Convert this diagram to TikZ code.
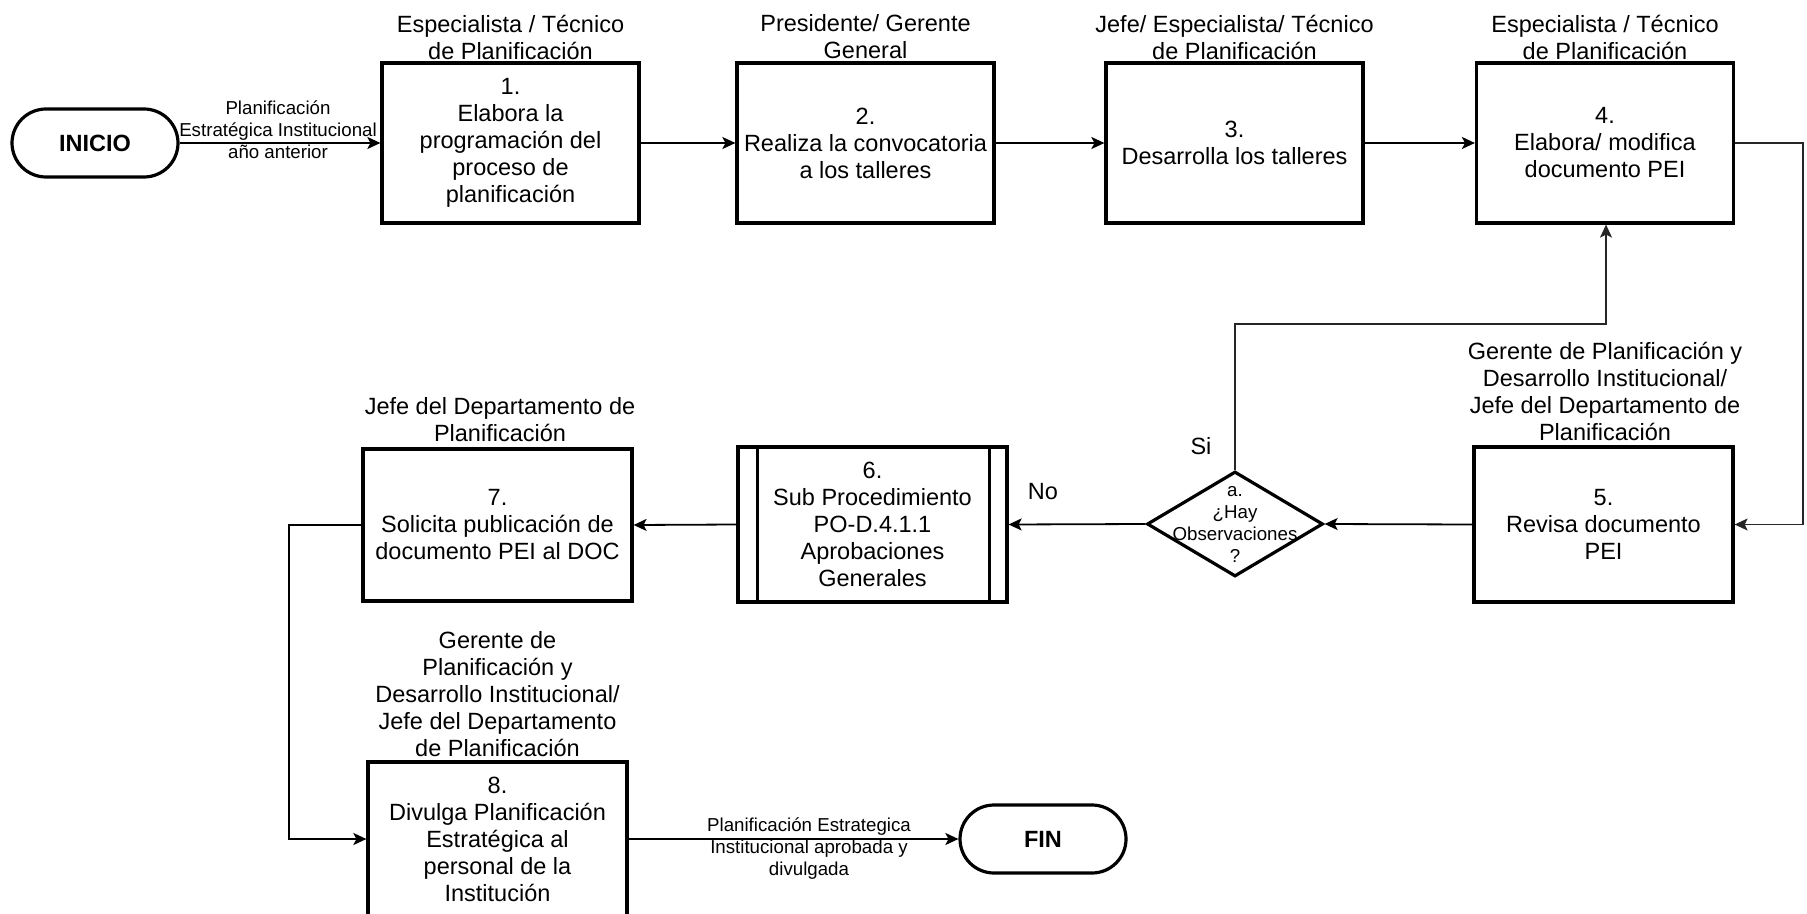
\documentclass[tikz,border=0pt]{standalone}
\usepackage{fontspec}
\setmainfont{Liberation Sans}
\usetikzlibrary{arrows.meta,shapes.geometric}
\newcommand\mainsz{\fontsize{11.75pt}{13.5pt}\selectfont}
\newcommand\smallsz{\fontsize{9.35pt}{11pt}\selectfont}
\begin{document}
\begin{tikzpicture}[x=0.5pt,y=-0.5pt,
  box/.style={draw,line width=1.6pt,minimum width=128.5pt,minimum height=80pt,inner sep=0pt,align=center,font=\mainsz},
  term/.style={draw,line width=1.6pt,rectangle,rounded corners=17pt,minimum width=83pt,minimum height=34pt,inner sep=0pt,font=\mainsz\bfseries},
  role/.style={align=center,inner sep=0pt,font=\mainsz},
  lbl/.style={align=center,inner sep=0pt,font=\smallsz},
  dec/.style={draw,line width=1.6pt,diamond,minimum width=88pt,minimum height=52.5pt,inner sep=0pt},
  conn/.style={line width=0.9pt,-{Stealth[length=6.5pt,width=6pt,inset=1.5pt]}},
  loopline/.style={line width=0.6pt,draw=black!85,-{Stealth[length=6.5pt,width=6pt,inset=1.5pt]}}
]
\useasboundingbox (0,0) rectangle (1807,914);
\fill[white] (0,0) rectangle (1807,914);

% terminals
\node[term] (inicio) at (95,143) {INICIO};
\node[term] (fin) at (1043,839) {FIN};

% top row
\node[box] (b1) at (510.5,143) {1.\\Elabora la\\programación del\\proceso de\\planificación};
\node[box] (b2) at (865.5,143) {2.\\Realiza la convocatoria\\a los talleres};
\node[box] (b3) at (1234.5,143) {3.\\Desarrolla los talleres};
\node[box] (b4) at (1605,143) {4.\\Elabora/ modifica\\documento PEI};

\node[role] (r1) at (510.5,37) {Especialista / Técnico\\de Planificación};
\node[role] (r2) at (865.5,37) {Presidente/ Gerente\\General};
\node[role] (r3) at (1234.5,37) {Jefe/ Especialista/ Técnico\\de Planificación};
\node[role] (r4) at (1605,37) {Especialista / Técnico\\de Planificación};

% middle row
\node[box,minimum width=129.5pt,minimum height=77.5pt] (b5) at (1603.5,524.5) {5.\\Revisa documento\\PEI};
\node[role] (r5) at (1605,391) {Gerente de Planificación y\\Desarrollo Institucional/\\Jefe del Departamento de\\Planificación};

\node[dec] (dia) at (1235,524) {};
\node[lbl] (diat) at (1235,524) {a.\\¿Hay\\Observaciones\\?};

\node[box,minimum width=134.5pt,minimum height=77.5pt] (b6) at (872.5,524.5) {6.\\Sub Procedimiento\\PO-D.4.1.1\\Aprobaciones\\Generales};
\draw[line width=1.6pt] ([xshift=10.5pt]b6.north west) -- ([xshift=10.5pt]b6.south west);
\draw[line width=1.6pt] ([xshift=-9.5pt]b6.north east) -- ([xshift=-9.5pt]b6.south east);

\node[box,minimum width=134.5pt,minimum height=76pt] (b7) at (497.5,525) {7.\\Solicita publicación de\\documento PEI al DOC};
\node[role] (r7) at (500,420) {Jefe del Departamento de\\Planificación};

% bottom
\node[box,minimum width=129.5pt,minimum height=77pt] (b8) at (497.5,839) {8.\\Divulga Planificación\\Estratégica al\\personal de la\\Institución};
\node[role] (r8) at (497.5,694) {Gerente de\\Planificación y\\Desarrollo Institucional/\\Jefe del Departamento\\de Planificación};

% labels
\node[role] (si) at (1201,446) {Si};
\node[role] (no) at (1043,492) {No};
\node[lbl] (l1) at (278,130) {Planificación\\Estratégica Institucional\\año anterior};
\node[lbl] (l2) at (809,849) {Planificación Estrategica\\Institucional aprobada y\\divulgada};

% helper coordinates
\coordinate (rturn) at (1803,143);
\coordinate (sturn) at (1606,324);
\coordinate (lturn) at (289,839);

% connectors
\draw[conn] (inicio.east) -- (b1.west);
\draw[conn] (b1.east) -- (b2.west);
\draw[conn] (b2.east) -- (b3.west);
\draw[conn] (b3.east) -- (b4.west);
\draw[loopline] (b4.east) -- (rturn) |- (b5.east);
\draw[conn] (b5.west) -- (dia.east);
\draw[loopline] (dia.north) |- (sturn) -- (b4.south -| sturn);
\draw[conn] (dia.west) -- (b6.east);
\draw[conn] (b6.west) -- (b7.west -| b7.east);
\draw[conn] (b7.west) -| (lturn) -- (b8.west);
\draw[conn] (b8.east) -- (fin.west);
\end{tikzpicture}
\end{document}
